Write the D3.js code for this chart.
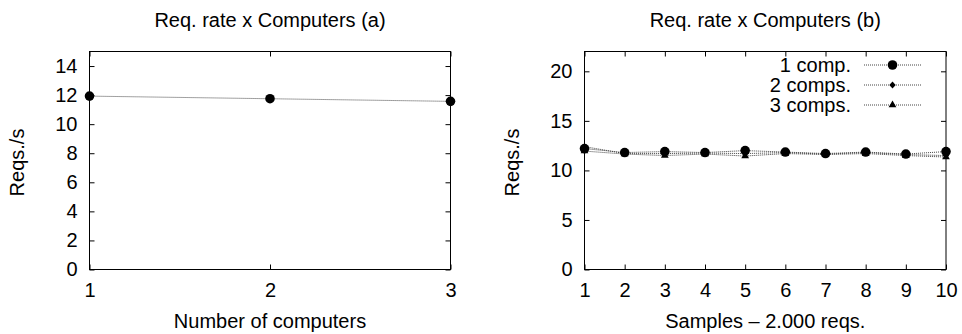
<!DOCTYPE html>
<html>
<head>
<meta charset="utf-8">
<script src="https://cdn.jsdelivr.net/npm/d3@7"></script>
<style>
  body { margin: 0; background: #fff; }
  svg { display: block; font-family: "Liberation Sans", Arial, sans-serif; }
  .tick line { stroke: #000; }
</style>
</head>
<body>
<svg id="chart" width="962" height="334"></svg>
<script>
// panel (a): mean request rate per number of computers
const computers = [1, 2, 3];
const rateByComputers = [11.93, 11.75, 11.57];
const yTicksA = [0, 2, 4, 6, 8, 10, 12, 14];

// panel (b): request rate per sample (2.000 reqs each)
const samples = [1, 2, 3, 4, 5, 6, 7, 8, 9, 10];
const oneComp = [12.2, 11.8, 11.9, 11.8, 12.0, 11.85, 11.7, 11.85, 11.65, 11.9];
const twoComps = [12.4, 11.7, 11.7, 11.75, 11.7, 11.8, 11.65, 11.8, 11.6, 11.5];
const threeComps = [11.95, 11.65, 11.5, 11.65, 11.45, 11.7, 11.6, 11.7, 11.5, 11.35];
const seriesNames = ['1 comp.', '2 comps.', '3 comps.'];
const yTicksB = [0, 5, 10, 15, 20];

const svg = d3.select('#chart');
const fontSize = 20;
const tickLen = 5;

function panel(opts) {
    const { left, top, width, height } = opts;
    const g = svg.append('g').attr('transform', `translate(${left},${top})`);

    const x = d3.scaleLinear().domain(opts.xDomain).range([0, width]);
    const y = d3.scaleLinear().domain(opts.yDomain).range([height, 0]);

    // inward ticks on all four sides, labels only bottom/left
    g.append('g').attr('transform', `translate(0,${height})`)
        .call(d3.axisBottom(x).tickValues(opts.xTicks).tickFormat(d3.format('d'))
            .tickSizeInner(-tickLen).tickSizeOuter(0).tickPadding(13.5));
    g.append('g')
        .call(d3.axisTop(x).tickValues(opts.xTicks).tickFormat('')
            .tickSizeInner(-tickLen).tickSizeOuter(0));
    g.append('g')
        .call(d3.axisLeft(y).tickValues(opts.yTicks).tickFormat(d3.format('d'))
            .tickSizeInner(-tickLen).tickSizeOuter(0).tickPadding(12));
    g.append('g').attr('transform', `translate(${width},0)`)
        .call(d3.axisRight(y).tickValues(opts.yTicks).tickFormat('')
            .tickSizeInner(-tickLen).tickSizeOuter(0));

    g.selectAll('.domain').remove();
    g.selectAll('.tick text').attr('font-size', fontSize).attr('font-family', null).attr('fill', '#000');

    g.append('rect')
        .attr('width', width).attr('height', height)
        .attr('fill', 'none').attr('stroke', '#000').attr('stroke-width', 1);

    // titles
    svg.append('text')
        .attr('x', left + width / 2).attr('y', 27)
        .attr('text-anchor', 'middle').attr('font-size', fontSize)
        .text(opts.title);
    svg.append('text')
        .attr('x', left + width / 2).attr('y', 328)
        .attr('text-anchor', 'middle').attr('font-size', fontSize)
        .text(opts.xLabel);
    svg.append('text')
        .attr('transform', `translate(${opts.yLabelX},${top + height / 2 + 2}) rotate(-90)`)
        .attr('text-anchor', 'middle').attr('font-size', fontSize)
        .text('Reqs./s');

    return { g, x, y };
}

const line = (x, y, xs) => d3.line().x((d, i) => x(xs[i])).y(d => y(d));

function drawSeries(g, x, y, xs, values, marker) {
    g.append('path')
        .datum(values)
        .attr('d', line(x, y, xs))
        .attr('fill', 'none')
        .attr('stroke', '#444')
        .attr('stroke-width', 1)
        .attr('stroke-dasharray', '1,1');
    g.selectAll(null)
        .data(values)
        .enter()
        .append('path')
        .attr('transform', (d, i) => `translate(${x(xs[i])},${y(d)})`)
        .attr('d', marker)
        .attr('fill', '#000');
}

const circle = d3.symbol(d3.symbolCircle, 72)();
const diamond = 'M0,-3.5L3.2,0L0,3.5L-3.2,0Z';
const triangle = d3.symbol(d3.symbolTriangle, 26)();

// panel (a)
const a = panel({
    left: 89.5, top: 51.5, width: 361, height: 218,
    xDomain: [1, 3], yDomain: [0, 15],
    xTicks: computers, yTicks: yTicksA,
    title: 'Req. rate x Computers (a)',
    xLabel: 'Number of computers',
    yLabelX: 24
});
drawSeries(a.g, a.x, a.y, computers, rateByComputers, circle);

// panel (b)
const b = panel({
    left: 584.5, top: 51.5, width: 361.5, height: 218,
    xDomain: [1, 10], yDomain: [0, 22],
    xTicks: samples, yTicks: yTicksB,
    title: 'Req. rate x Computers (b)',
    xLabel: 'Samples \u2013 2.000 reqs.',
    yLabelX: 519
});
const markers = [circle, diamond, triangle];
[threeComps, twoComps, oneComp].forEach((vals, i) => {
    drawSeries(b.g, b.x, b.y, samples, vals, markers[2 - i]);
});

// legend
const legend = svg.append('g');
seriesNames.forEach((name, i) => {
    const cy = 65 + i * 20;
    legend.append('text')
        .attr('x', 851).attr('y', cy + 7)
        .attr('text-anchor', 'end').attr('font-size', fontSize)
        .text(name);
    legend.append('line')
        .attr('x1', 864).attr('x2', 922).attr('y1', cy).attr('y2', cy)
        .attr('stroke', '#444').attr('stroke-width', 1).attr('stroke-dasharray', '1,1');
    legend.append('path')
        .attr('transform', `translate(892.5,${cy})`)
        .attr('d', markers[i]);
});
</script>
</body>
</html>
